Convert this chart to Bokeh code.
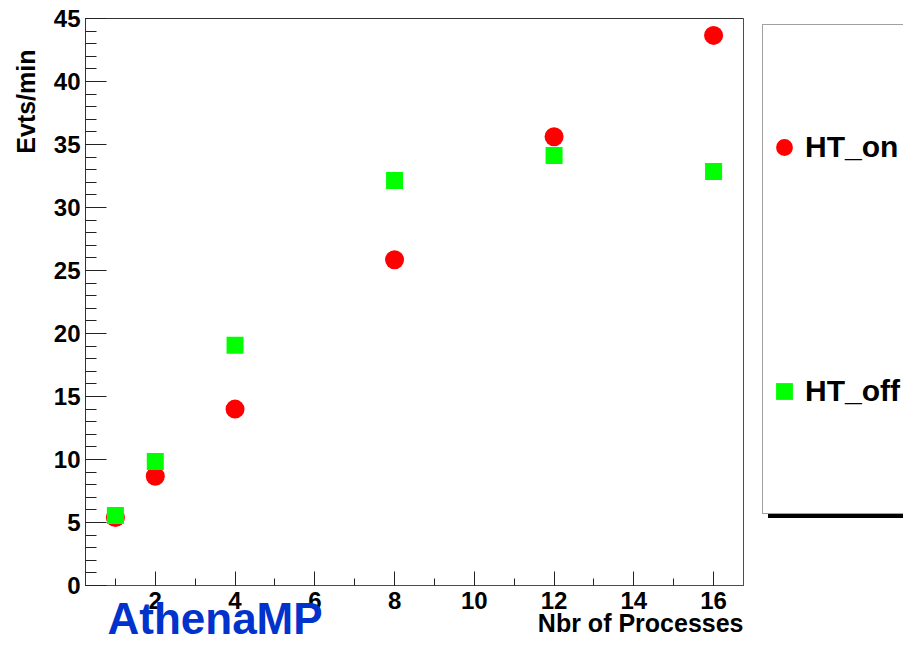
import math
from bokeh.plotting import figure
from bokeh.models import (Range1d, SingleIntervalTicker, Label, Legend,
                          LegendItem)
from bokeh.embed import file_html
from bokeh.resources import INLINE

# ---- data ----
processes = [1, 2, 4, 8, 12, 16]
ht_on = [5.4, 8.67, 14.0, 25.85, 35.62, 43.66]
ht_off = [5.55, 9.85, 19.07, 32.15, 34.12, 32.86]
series_names = ["HT_on", "HT_off"]
x_title = "Nbr of Processes"
y_title = "Evts/min"
tag = "AthenaMP"

# axis extents of the drawn frame
x_lo, x_hi = 0.25, 16.75
y_lo, y_hi = 0, 45

FONT = "Liberation Sans"
W, H = 903, 636
# pixel placement of the visible frame inside the canvas
FL, FR, FT, FB = 85, 743, 18, 585
xs = (FR - FL) / (x_hi - x_lo)
ys = (FB - FT) / (y_hi - y_lo)
x_start = x_lo - FL / xs
x_end = x_lo + (W - FL) / xs
y_top = y_hi + FT / ys
y_bot = y_lo - (H - FB) / ys


def dx(px):
    return x_start + px / xs


def dy(py):
    return y_top - py / ys


p = figure(width=W, height=H, output_backend="svg", toolbar_location=None,
           x_range=Range1d(x_start, x_end), y_range=Range1d(y_bot, y_top),
           min_border=0, title=None)
p.min_border_left = 0
p.min_border_right = 0
p.min_border_top = 0
p.min_border_bottom = 0
p.background_fill_color = "white"
p.border_fill_color = "white"
p.outline_line_color = None
p.grid.visible = False

xa = p.xaxis[0]
ya = p.yaxis[0]
xa.fixed_location = y_lo
ya.fixed_location = x_lo
xa.bounds = (x_lo, x_hi)
ya.bounds = (y_lo, y_hi)
xa.ticker = SingleIntervalTicker(interval=2, num_minor_ticks=2)
ya.ticker = SingleIntervalTicker(interval=5, num_minor_ticks=5)
for ax in (xa, ya):
    ax.major_tick_out = 0
    ax.minor_tick_out = 0
    ax.major_label_text_font = FONT
    ax.major_label_text_font_style = "bold"
    ax.major_label_text_font_size = "24px"
    ax.major_label_text_color = "black"
    ax.major_tick_line_color = "#222222"
    ax.minor_tick_line_color = "#222222"
xa.major_tick_in = 14
xa.minor_tick_in = 7
ya.major_tick_in = 21
ya.minor_tick_in = 11
xa.axis_line_color = "#ff0000"
ya.axis_line_color = "#333333"
xa.major_label_standoff = 6
ya.major_label_standoff = 5

# visible frame
p.quad(left=[x_lo], right=[x_hi], bottom=[y_lo], top=[y_hi],
       fill_color=None, line_color="#333333", line_width=1)
p.segment(x0=[x_hi], y0=[y_lo], x1=[x_hi], y1=[y_hi],
          line_color="#ff0000", line_width=1)

r_on = p.scatter(processes, ht_on, marker="circle", size=19,
                 fill_color="#ff0000", line_color=None)
r_off = p.scatter(processes, ht_off, marker="square", size=17,
                  fill_color="#00ff00", line_color=None)

LEG_L, LEG_T, LEG_B = 762, 25, 514
row_h = (LEG_B - LEG_T) / 2


def make_legend(loc, bg, border, labels):
    return Legend(items=[LegendItem(label=labels[0], renderers=[r_on]),
                         LegendItem(label=labels[1], renderers=[r_off])],
                  location=loc, orientation="vertical", padding=0, spacing=0,
                  margin=0, glyph_width=42, glyph_height=int(row_h),
                  label_height=int(row_h), label_width=300, label_standoff=0,
                  label_text_font=FONT, label_text_font_style="bold",
                  label_text_font_size="30px", label_text_color="black",
                  background_fill_color=bg, background_fill_alpha=1.0,
                  border_line_color=border, border_line_width=1)


# drop shadow behind the legend box
p.add_layout(make_legend((LEG_L + 6, H - LEG_B - 4), "black", None,
                         [" ", " "]))
p.add_layout(make_legend((LEG_L, H - LEG_B), "white", "#444444",
                         series_names))

p.add_layout(Label(x=dx(107), y=dy(618), text=tag, text_font=FONT,
                   text_font_style="bold", text_font_size="44px",
                   text_color="#0033cc", text_align="left",
                   text_baseline="alphabetic"))
p.add_layout(Label(x=dx(FR), y=dy(622), text=x_title, text_font=FONT,
                   text_font_style="bold", text_font_size="25px",
                   text_color="black", text_align="right",
                   text_baseline="alphabetic"))
p.add_layout(Label(x=dx(25), y=dy(49), text=y_title, text_font=FONT,
                   text_font_style="bold", text_font_size="25px",
                   text_color="black", text_align="right",
                   text_baseline="alphabetic", angle=math.pi / 2))

open("out.html", "w").write(file_html(p, INLINE))
